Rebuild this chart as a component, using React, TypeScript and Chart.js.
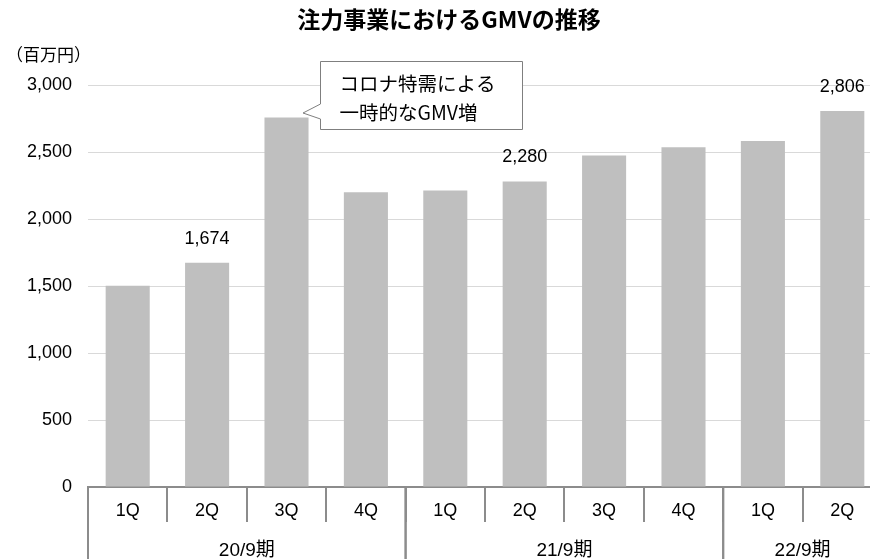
import React, { useEffect, useRef } from "react";
import { Chart, registerables } from "chart.js";

Chart.register(...registerables);

const title = "注力事業におけるGMVの推移";
const unitLabel = "（百万円）";
const quarters = ["1Q", "2Q", "3Q", "4Q", "1Q", "2Q", "3Q", "4Q", "1Q", "2Q"];
const gmv = [1502, 1674, 2757, 2200, 2213, 2280, 2473, 2535, 2583, 2806];
const fiscalYears = ["20/9期", "21/9期", "22/9期"];
const yearSpans = [4, 4, 2];
const labeledIndexes = [1, 5, 9];
const calloutIndex = 2;
const calloutLines = ["コロナ特需による", "一時的なGMV増"];
const yMax = 3000;
const yStep = 500;

const FONT = '"Liberation Sans", "Noto Sans CJK JP", sans-serif';
const CJK = '"Noto Sans CJK JP", "Liberation Sans", sans-serif';
const AXIS_GRAY = "#8c8c8c";

const fmt = (v: number) => v.toLocaleString("en-US");

const overlay = {
  id: "overlay",
  afterDraw(chart: any) {
    const { ctx, chartArea, scales } = chart;
    const xs = scales.x;
    const ys = scales.y;
    const meta = chart.getDatasetMeta(0);
    ctx.save();
    ctx.fillStyle = "#000";

    // title
    ctx.font = `bold 23px ${CJK}`;
    ctx.textAlign = "center";
    ctx.textBaseline = "middle";
    ctx.fillText(title, 449, 19);

    // unit label
    ctx.font = `17px ${CJK}`;
    ctx.textAlign = "left";
    ctx.fillText(unitLabel, 6, 55);

    // quarter labels
    const step = xs.getPixelForValue(1) - xs.getPixelForValue(0);
    ctx.font = `18px ${FONT}`;
    ctx.textAlign = "center";
    quarters.forEach((q, i) => {
      ctx.fillText(q, xs.getPixelForValue(i), chartArea.bottom + 24);
    });

    // fiscal-year groups
    ctx.strokeStyle = AXIS_GRAY;
    ctx.lineWidth = 2;
    ctx.font = `19px ${FONT}`;
    let start = 0;
    fiscalYears.forEach((fy, k) => {
      const end = start + yearSpans[k];
      const left = xs.getPixelForValue(start) - step / 2;
      const right = xs.getPixelForValue(end - 1) + step / 2;
      [left, right].forEach((px) => {
        ctx.beginPath();
        ctx.moveTo(px, chartArea.bottom);
        ctx.lineTo(px, chart.height);
        ctx.stroke();
      });
      ctx.fillText(fy, (left + right) / 2, chartArea.bottom + 64);
      start = end;
    });

    // data labels
    ctx.font = `18px ${FONT}`;
    labeledIndexes.forEach((i) => {
      const bar = meta.data[i];
      ctx.fillText(fmt(gmv[i]), bar.x, bar.y - 24);
    });

    // callout
    const cb = meta.data[calloutIndex];
    const L = Math.round(cb.x + 33) + 0.5;
    const R = Math.round(cb.x + 235) + 0.5;
    const T = Math.round(ys.getPixelForValue(yMax) - 24) + 0.5;
    const B = T + 68;
    const ax = Math.round(cb.x + 16);
    const ay = Math.round(cb.y - 5);
    ctx.beginPath();
    ctx.moveTo(L, T);
    ctx.lineTo(R, T);
    ctx.lineTo(R, B);
    ctx.lineTo(L, B);
    ctx.lineTo(L, ay + 6);
    ctx.lineTo(ax, ay);
    ctx.lineTo(L, ay - 9);
    ctx.closePath();
    ctx.fillStyle = "#fff";
    ctx.fill();
    ctx.strokeStyle = "#7f7f7f";
    ctx.lineWidth = 1;
    ctx.stroke();
    ctx.fillStyle = "#000";
    ctx.font = `19.5px ${CJK}`;
    ctx.textAlign = "left";
    ctx.fillText(calloutLines[0], L + 19, T + 22);
    ctx.fillText(calloutLines[1], L + 19, T + 51);

    ctx.restore();
  },
};

export default function App() {
  const ref = useRef<HTMLCanvasElement | null>(null);
  useEffect(() => {
    if (!ref.current) return;
    const chart = new Chart(ref.current, {
      type: "bar",
      data: {
        labels: quarters,
        datasets: [
          {
            data: gmv,
            backgroundColor: "#bfbfbf",
            barPercentage: 0.555,
            categoryPercentage: 1,
          },
        ],
      },
      options: {
        animation: false,
        responsive: false,
        devicePixelRatio: 1,
        layout: { padding: { top: 85, left: 0, right: 0, bottom: 37 } },
        plugins: { legend: { display: false }, tooltip: { enabled: false }, title: { display: false } },
        scales: {
          x: {
            offset: true,
            ticks: { display: false },
            grid: {
              display: true,
              offset: true,
              drawOnChartArea: false,
              drawTicks: true,
              tickLength: 35,
              color: AXIS_GRAY,
              lineWidth: 2,
            },
            border: { display: true, color: AXIS_GRAY, width: 2 },
          },
          y: {
            min: 0,
            max: yMax,
            ticks: {
              stepSize: yStep,
              padding: 16,
              color: "#000",
              font: { family: FONT, size: 18 },
              callback: (v: any) => fmt(Number(v)),
            },
            grid: { color: "#d9d9d9", lineWidth: 1, drawTicks: false },
            border: { display: false },
            afterFit: (s: any) => {
              s.width = 88;
            },
          },
        },
      },
      plugins: [overlay],
    });
    return () => chart.destroy();
  }, []);
  return (
    <div
      style={{
        position: "fixed",
        left: 0,
        top: 0,
        width: 870,
        height: 559,
        overflow: "hidden",
        background: "#fff",
      }}
    >
      <canvas ref={ref} width={882} height={559} style={{ display: "block" }} />
    </div>
  );
}
